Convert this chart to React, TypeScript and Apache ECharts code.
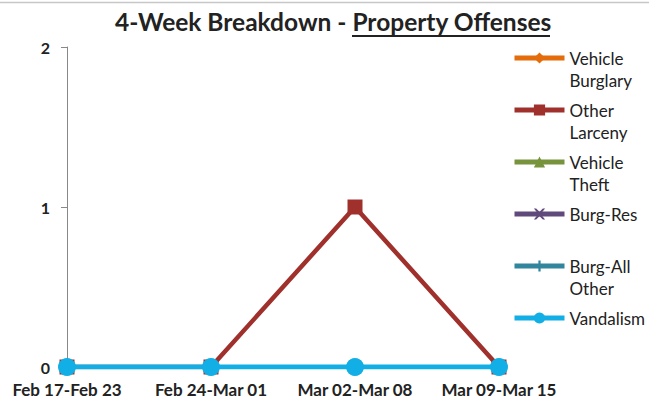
import React, { useEffect, useRef } from "react";
import * as echarts from "echarts";

const categories = ["Feb 17-Feb 23", "Feb 24-Mar 01", "Mar 02-Mar 08", "Mar 09-Mar 15"];
const seriesNames = ["Vehicle Burglary", "Other Larceny", "Vehicle Theft", "Burg-Res", "Burg-All Other", "Vandalism"];
const legendLabels = ["Vehicle\nBurglary", "Other\nLarceny", "Vehicle\nTheft", "Burg-Res", "Burg-All\nOther", "Vandalism"];
const vehicleBurglary = [0, 0, 0, 0];
const otherLarceny = [0, 0, 1, 0];
const vehicleTheft = [0, 0, 0, 0];
const burgRes = [0, 0, 0, 0];
const burgAllOther = [0, 0, 0, 0];
const vandalism = [0, 0, 0, 0];
const yTicks = [0, 1, 2];

const FONT = "Lato";
const colors = ["#E46C0A", "#A0302C", "#77933C", "#604A7B", "#31859C", "#12AEE6"];
const symbols = [
  "diamond",
  "rect",
  "triangle",
  "path://M0,0 L2,0 L5,3 L8,0 L10,0 L6,5 L10,10 L8,10 L5,7 L2,10 L0,10 L4,5 Z",
  "path://M4,0 L6,0 L6,4 L10,4 L10,6 L6,6 L6,10 L4,10 L4,6 L0,6 L0,4 L4,4 Z",
  "circle",
];
const symbolSizes = [11, 15, 11, 13, 11, 18];
const lineWidths = [4, 4.5, 4, 4, 4, 5];
const dataList = [vehicleBurglary, otherLarceny, vehicleTheft, burgRes, burgAllOther, vandalism];
const legendTops = [58, 110, 162, 214, 266, 318];

export default function App() {
  const ref = useRef<HTMLDivElement>(null);
  useEffect(() => {
    if (!ref.current) return;
    const chart = echarts.init(ref.current, null, { renderer: "svg" });
    const legends = seriesNames.map((name, i) => {
      const twoLine = legendLabels[i].includes("\n");
      return {
        orient: "vertical",
        left: 512,
        top: legendTops[i] - (twoLine ? 33 : 11),
        padding: 0,
        itemWidth: 50,
        itemHeight: 14,
        selectedMode: false,
        data: [name],
        formatter: () => (twoLine ? "\n" + legendLabels[i] : legendLabels[i]),
        lineStyle: { width: 5 },
        textStyle: {
          fontFamily: FONT,
          fontSize: 17,
          color: "#222",
          lineHeight: 22,
        },
      };
    });
    chart.setOption({
      animation: false,
      backgroundColor: "#fff",
      graphic: [
        {
          type: "line",
          shape: { x1: 0, y1: 2.5, x2: 649, y2: 2.5 },
          style: { stroke: "#c8c8c8", lineWidth: 1.5 },
        },
        {
          type: "text",
          left: 115,
          top: 9,
          style: {
            text: "{a|4-Week Breakdown - }{b|Property Offenses}",
            rich: {
              a: { fontFamily: FONT, fontWeight: "bold", fontSize: 24.5, fill: "#222" },
              b: { fontFamily: FONT, fontWeight: "bold", fontSize: 24.5, fill: "#222" },
            },
          },
        },
        {
          type: "line",
          shape: { x1: 352, y1: 36, x2: 550, y2: 36 },
          style: { stroke: "#222", lineWidth: 1.8 },
        },
      ],
      legend: legends,
      grid: { left: 67, right: 150, top: 47, bottom: 38, containLabel: false },
      xAxis: {
        type: "category",
        data: categories,
        boundaryGap: false,
        axisLine: { show: true, lineStyle: { color: "#888" } },
        axisTick: { show: false },
        axisLabel: {
          interval: 0,
          hideOverlap: false,
          fontFamily: FONT,
          fontWeight: "bold",
          fontSize: 17,
          color: "#222",
          margin: 14,
        },
      },
      yAxis: {
        type: "value",
        min: yTicks[0],
        max: yTicks[yTicks.length - 1],
        interval: 1,
        axisLine: { show: true, lineStyle: { color: "#888" } },
        axisTick: { show: true, length: 6, lineStyle: { color: "#888" } },
        splitLine: { show: false },
        axisLabel: {
          fontFamily: FONT,
          fontWeight: "bold",
          fontSize: 16,
          color: "#222",
          margin: 17,
        },
      },
      series: seriesNames.map((name, i) => ({
        name,
        type: "line",
        data: dataList[i],
        symbol: symbols[i],
        symbolSize: symbolSizes[i],
        showAllSymbol: true,
        lineStyle: { color: colors[i], width: lineWidths[i] },
        itemStyle: { color: colors[i] },
        z: 2 + i,
      })),
    });
    return () => chart.dispose();
  }, []);
  return (
    <div
      ref={ref}
      style={{ position: "fixed", left: 0, top: 0, width: 649, height: 405 }}
    />
  );
}
